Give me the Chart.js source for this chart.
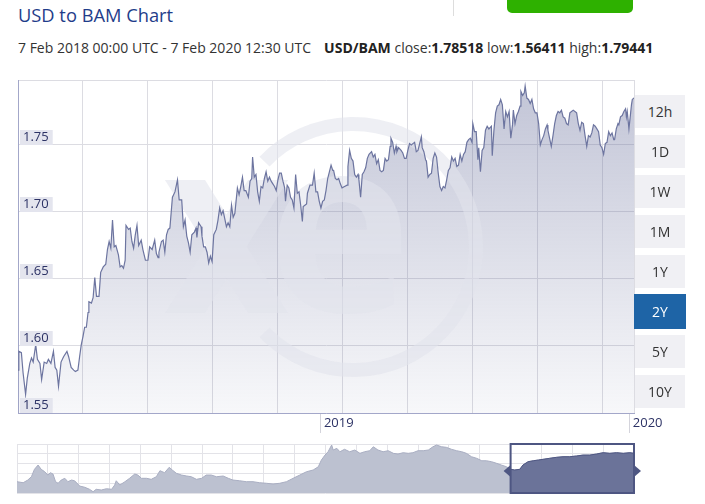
<!DOCTYPE html>
<html><head><meta charset="utf-8">
<script src="https://cdn.jsdelivr.net/npm/chart.js@4.4.1/dist/chart.umd.min.js"></script>
<style>
html,body{margin:0;padding:0;background:#fff;}
body{width:705px;height:504px;position:relative;overflow:hidden;font-family:'Open Sans',sans-serif;}
#title{position:absolute;left:18px;top:2px;font-size:18.3px;color:#1f3d8a;white-space:nowrap;}
#sub{position:absolute;left:18px;top:38px;font-size:14px;color:#333;white-space:nowrap;}
#sub b{font-weight:700;color:#222;}
#sub .gap{display:inline-block;width:13px;}
#divider{position:absolute;left:453px;top:0;width:1px;height:16px;background:#ddd;}
#green{position:absolute;left:507px;top:-6px;width:126px;height:19px;border-radius:5px;background:#2eb100;}
.btn{position:absolute;left:635px;width:50px;height:33px;background:#f0f0f4;color:#333;font-size:14px;line-height:33px;text-align:center;}
.btn.on{background:#1e64a6;color:#fff;left:634px;width:52px;height:35px;line-height:35px;}
#mainWrap{position:absolute;left:0;top:60px;width:705px;height:380px;}
#navWrap{position:absolute;left:0;top:440px;width:705px;height:64px;}
canvas{display:block;}
</style></head><body>
<div id="title">USD to BAM Chart</div>
<div id="divider"></div>
<div id="green"></div>
<div id="sub">7 Feb 2018 00:00 UTC - 7 Feb 2020 12:30 UTC<span class="gap"></span><b>USD/BAM</b> close:<b>1.78518</b> low:<b>1.56411</b> high:<b>1.79441</b></div>
<div id="mainWrap"><canvas id="main" width="705" height="380"></canvas></div>
<div id="navWrap"><canvas id="nav" width="705" height="64"></canvas></div>
<div id="btns"></div>
<script>
// ---- main series: days since start of the 2-year window, USD/BAM rate ----
const mainDays = [
0,1,4,6,9,11,14,16,18,21,
23,26,28,31,34,36,39,42,44,46,
48,51,54,58,60,63,66,68,71,73,
75,77,79,81,83,84,87,89,91,93,
96,98,101,104,106,108,110,112,114,116,
119,121,123,125,127,128,131,133,135,137,
139,141,143,146,148,151,154,156,159,162,
164,166,167,170,172,174,176,178,180,183,
186,189,191,194,196,198,200,202,204,206,
209,211,212,214,217,218,220,222,224,226,
228,230,232,235,237,239,241,243,245,247,
249,251,253,255,257,260,262,264,266,268,
270,273,275,277,278,280,282,284,286,288,
290,292,294,296,298,300,302,304,306,308,
310,312,314,316,317,319,321,323,325,327,
329,331,333,335,337,338,340,342,343,346,
349,351,353,355,357,359,361,363,365,367,
369,371,373,374,376,378,380,382,384,387,
390,391,393,395,397,399,401,403,404,406,
408,410,412,414,416,419,421,423,425,427,
429,431,433,435,437,439,441,442,444,446,
448,449,451,454,456,458,460,462,464,466,
468,470,472,474,476,478,479,481,483,484,
486,488,490,492,494,496,498,500,502,504,
506,508,510,512,514,516,518,520,522,524,
526,528,530,532,534,536,538,539,541,543,
545,546,548,550,552,554,556,558,561,562,
564,566,568,570,572,574,576,578,580,582,
584,586,587,589,591,593,595,596,598,600,
601,603,605,607,609,611,613,615,617,619,
621,623,625,627,628,630,632,634,636,638,
640,642,644,646,648,650,652,654,656,658,
660,662,664,666,668,670,672,674,676,678,
680,682,684,686,688,690,692,694,696,698,
700,702,704,706,707,709,711,712,714,716,
718,720,721,722,724,726,727,728,730];
const mainRates = [
1.582,1.596,1.595,1.580,1.564,1.576,1.587,1.591,1.588,1.601,
1.590,1.587,1.575,1.588,1.587,1.590,1.587,1.596,1.584,1.582,
1.570,1.588,1.592,1.596,1.592,1.584,1.582,1.581,1.582,1.592,
1.601,1.607,1.614,1.614,1.625,1.633,1.632,1.636,1.651,1.637,
1.637,1.655,1.659,1.661,1.672,1.678,1.673,1.694,1.674,1.675,
1.668,1.659,1.660,1.658,1.664,1.690,1.687,1.688,1.678,1.673,
1.683,1.690,1.675,1.679,1.672,1.664,1.664,1.674,1.672,1.679,
1.669,1.666,1.670,1.678,1.679,1.670,1.683,1.687,1.688,1.711,
1.715,1.724,1.709,1.709,1.689,1.694,1.682,1.677,1.670,1.683,
1.685,1.688,1.681,1.692,1.689,1.682,1.674,1.674,1.670,1.662,
1.667,1.663,1.683,1.687,1.694,1.703,1.698,1.701,1.695,1.689,
1.692,1.689,1.705,1.696,1.699,1.718,1.713,1.719,1.726,1.716,
1.716,1.711,1.723,1.725,1.741,1.726,1.728,1.715,1.708,1.719,
1.718,1.725,1.730,1.723,1.726,1.723,1.721,1.719,1.716,1.724,
1.729,1.729,1.723,1.718,1.708,1.720,1.718,1.711,1.709,1.703,
1.728,1.714,1.715,1.705,1.693,1.704,1.705,1.706,1.714,1.720,
1.720,1.729,1.715,1.715,1.708,1.703,1.708,1.709,1.716,1.725,
1.730,1.735,1.731,1.731,1.725,1.724,1.725,1.721,1.718,1.719,
1.720,1.734,1.746,1.740,1.738,1.728,1.726,1.728,1.724,1.711,
1.728,1.730,1.733,1.740,1.743,1.745,1.741,1.743,1.736,1.739,
1.731,1.730,1.731,1.740,1.738,1.739,1.749,1.755,1.752,1.744,
1.749,1.745,1.748,1.746,1.744,1.740,1.740,1.746,1.751,1.750,
1.751,1.752,1.745,1.746,1.751,1.756,1.748,1.745,1.739,1.738,
1.726,1.728,1.729,1.740,1.744,1.741,1.729,1.719,1.716,1.719,
1.718,1.724,1.731,1.733,1.741,1.738,1.740,1.734,1.735,1.743,
1.738,1.743,1.745,1.752,1.754,1.755,1.752,1.766,1.760,1.760,
1.739,1.748,1.730,1.746,1.748,1.761,1.764,1.762,1.764,1.742,
1.761,1.774,1.779,1.780,1.784,1.780,1.762,1.775,1.771,1.775,
1.755,1.765,1.776,1.766,1.772,1.775,1.779,1.790,1.787,1.789,
1.794,1.785,1.784,1.781,1.784,1.777,1.774,1.774,1.766,1.750,
1.754,1.757,1.762,1.765,1.761,1.755,1.749,1.757,1.766,1.772,
1.775,1.774,1.776,1.771,1.770,1.766,1.765,1.774,1.775,1.776,
1.775,1.774,1.766,1.761,1.767,1.766,1.757,1.749,1.757,1.756,
1.759,1.765,1.764,1.762,1.760,1.750,1.748,1.743,1.751,1.752,
1.760,1.757,1.759,1.754,1.754,1.762,1.766,1.765,1.771,1.772,
1.775,1.777,1.771,1.775,1.762,1.774,1.780,1.784,1.78518];

const spanDays = 730;
const gridStepDays = 77;
const yMin = 1.55, yMax = 1.7985;
const yTicks = [1.55, 1.60, 1.65, 1.70, 1.75];
const yearTickDays = [359, 725];
const yearLabels = ['2019', '2020'];
const rangeButtons = ['12h','1D','1W','1M','1Y','2Y','5Y','10Y'];
const activeButton = '2Y';

// ---- navigator: months since start of 10-year history ----
const navMonths = [
0,1.2,2.1,2.8,3.4,4.1,4.7,5.4,6.0,6.5,
7.0,7.5,8.0,8.6,9.3,9.9,10.6,11.2,12.2,13.2,
14.1,14.8,15.4,16.4,17.4,18.4,19.0,19.3,20.0,21.0,
21.9,22.9,23.5,24.2,25.2,26.1,27.1,27.8,28.7,29.6,
30.2,31.0,32.0,33.0,33.9,34.9,35.9,36.8,37.8,38.8,
40.1,41.1,42.0,43.3,44.6,45.9,47.2,48.5,49.8,51.1,
52.4,53.7,55.0,56.3,57.6,58.6,59.2,59.9,60.5,61.2,
61.5,62.2,62.8,63.7,64.7,65.7,66.7,67.6,68.6,69.3,
70.2,71.2,72.2,73.2,74.1,75.1,76.1,77.0,78.0,79.0,
80.0,80.9,81.6,82.6,83.5,84.5,85.5,86.5,87.4,88.4,
89.4,90.4,91.3,92.3,93.3,94.2,95.2,96.0,96.8,97.8,
98.4,99.4,100.4,101.4,102.3,103.6,104.9,106.2,107.5,108.8,
110.1,111.4,112.7,114.0,115.3,116.6,117.9,119.2,120];
const navRates = [
1.426,1.413,1.447,1.489,1.583,1.637,1.583,1.552,1.510,1.540,
1.523,1.426,1.406,1.447,1.469,1.426,1.447,1.438,1.371,1.355,
1.330,1.299,1.330,1.321,1.337,1.330,1.384,1.438,1.384,1.426,
1.469,1.523,1.510,1.469,1.469,1.456,1.489,1.565,1.540,1.608,
1.574,1.532,1.510,1.498,1.489,1.456,1.469,1.510,1.510,1.489,
1.498,1.469,1.447,1.438,1.426,1.426,1.413,1.406,1.397,1.406,
1.426,1.469,1.510,1.552,1.574,1.615,1.700,1.763,1.805,1.890,
1.827,1.848,1.805,1.836,1.805,1.827,1.785,1.805,1.818,1.868,
1.827,1.805,1.818,1.785,1.776,1.793,1.785,1.793,1.818,1.818,
1.827,1.868,1.890,1.868,1.861,1.836,1.818,1.805,1.785,1.742,
1.722,1.691,1.691,1.679,1.658,1.637,1.615,1.583,1.574,1.583,
1.637,1.679,1.691,1.700,1.709,1.722,1.734,1.742,1.742,1.751,
1.763,1.763,1.776,1.793,1.785,1.793,1.785,1.793,1.785];
const navSpanMonths = 120;
const navGridMonths = 6;
const selStartMonth = 96;
const navMin = 1.283, navMax = 1.903;

// ---- buttons ----
(function(){
  const wrap = document.getElementById('btns');
  rangeButtons.forEach((b,i)=>{
    const d = document.createElement('div');
    d.className = 'btn' + (b===activeButton?' on':'');
    d.style.top = (b===activeButton ? 94 + i*40 : 95 + i*40) + 'px';
    d.textContent = b;
    wrap.appendChild(d);
  });
})();

Chart.defaults.font.family = "'Open Sans', sans-serif";

const watermark = {
  id: 'xeMark',
  beforeDatasetsDraw(chart){
    const {ctx, chartArea:a} = chart;
    ctx.save();
    ctx.beginPath(); ctx.rect(a.left, a.top, a.right-a.left, a.bottom-a.top); ctx.clip();
    ctx.fillStyle = ctx.strokeStyle = 'rgba(226,227,236,0.58)';
    const ox = a.left, oy = a.top;
    ctx.lineWidth = 14;
    ctx.beginPath();
    ctx.arc(ox+335, oy+167, 123, -136*Math.PI/180, 136*Math.PI/180);
    ctx.stroke();
    ctx.save();
    ctx.beginPath(); ctx.rect(ox+140, oy+100, 160, 133); ctx.clip();
    ctx.lineWidth = 34;
    ctx.beginPath();
    ctx.moveTo(ox+147, oy+68); ctx.lineTo(ox+270, oy+265);
    ctx.moveTo(ox+270, oy+68); ctx.lineTo(ox+147, oy+265);
    ctx.stroke();
    ctx.restore();
    ctx.font = "bold 245px 'Open Sans'";
    ctx.textBaseline = 'alphabetic';
    ctx.textAlign = 'left';
    ctx.fillText('e', ox+249, oy+232);
    ctx.restore();
  }
};

new Chart(document.getElementById('main'), {
  type: 'line',
  data: { datasets: [{
    data: mainDays.map((d,i)=>({x:d, y:mainRates[i]})),
    borderColor: '#6d75a0', borderWidth: 1.2, pointRadius: 0, tension: 0,
    fill: 'start',
    backgroundColor: (c)=>{
      const a = c.chart.chartArea;
      if (!a) return 'rgba(108,115,158,0.25)';
      const g = c.chart.ctx.createLinearGradient(0, a.top, 0, a.bottom);
      g.addColorStop(0, 'rgba(108,115,158,0.42)');
      g.addColorStop(1, 'rgba(108,115,158,0.05)');
      return g;
    }
  }]},
  options: {
    responsive: false, animation: false, events: [],
    layout: { padding: { left: 18, right: 71, top: 20, bottom: 0 } },
    plugins: { legend: {display:false}, tooltip: {enabled:false}, filler: { drawTime: 'beforeDatasetsDraw' } },
    scales: {
      x: {
        type: 'linear', min: 0, max: spanDays, weight: 0,
        afterBuildTicks: s => { const t=[]; for (let v=0; v<spanDays; v+=gridStepDays) t.push({value:v}); t.push({value:spanDays}); s.ticks=t; },
        ticks: { display: false },
        grid: { color: '#dcdce2', drawTicks: false },
        border: { color: '#a3a7c9' },
        afterFit: s => { s.height = 0; }
      },
      x2: {
        type: 'linear', position: 'bottom', min: 0, max: spanDays, weight: 1,
        afterBuildTicks: s => { s.ticks = yearTickDays.map(v=>({value:v})); },
        ticks: { align: 'start', padding: -18, labelOffset: 3, color: '#2c3265', font: {size: 13}, maxRotation: 0, autoSkip: false,
                 callback: (v,i) => yearLabels[i] },
        grid: { drawOnChartArea: false, drawTicks: true, tickLength: 20, color: '#d4d4dc' },
        border: { display: false },
        afterFit: s => { s.height = 27; }
      },
      y: {
        min: yMin, max: yMax,
        afterBuildTicks: s => { s.ticks = yTicks.concat([yMax]).map(v=>({value:v})); },
        ticks: { mirror: true, padding: 5, labelOffset: -7.5, z: 1, color: '#2c3265',
                 font: { size: 13, lineHeight: 1.15 },
                 callback: v => (v > 1.76 ? '' : Number(v).toFixed(2)),
                 showLabelBackdrop: true,
                 backdropColor: c => (c.tick && c.tick.value > 1.76) ? 'rgba(0,0,0,0)' : '#e4e5ee',
                 backdropPadding: { left: 3, right: 4, top: 0, bottom: 0 } },
        grid: { color: '#dcdce2', drawTicks: false },
        border: { color: '#a3a7c9' },
        afterFit: s => { s.width = 0; }
      }
    }
  },
  plugins: [watermark]
});

const selection = {
  id: 'selection',
  afterDatasetsDraw(chart){
    const {ctx, chartArea:a} = chart;
    const xs = chart.scales.x;
    const x0 = xs.getPixelForValue(selStartMonth), x1 = xs.getPixelForValue(navSpanMonths);
    ctx.save();
    ctx.strokeStyle = '#4e5682'; ctx.lineWidth = 2;
    ctx.strokeRect(x0, a.top, x1-x0, a.bottom-a.top);
    ctx.fillStyle = '#4e5682';
    const my = a.top + 27;
    ctx.beginPath(); ctx.moveTo(x0, my-6); ctx.lineTo(x0-7, my); ctx.lineTo(x0, my+6); ctx.closePath(); ctx.fill();
    ctx.beginPath(); ctx.moveTo(x1, my-6); ctx.lineTo(x1+7, my); ctx.lineTo(x1, my+6); ctx.closePath(); ctx.fill();
    ctx.restore();
  }
};

const navPts = navMonths.map((m,i)=>({x:m, y:navRates[i]}));
new Chart(document.getElementById('nav'), {
  type: 'line',
  data: { datasets: [
    { data: navPts, order: 2, borderColor: '#a9aec2', borderWidth: 1, pointRadius: 0, fill: 'start', backgroundColor: '#bcc1d0' },
    { data: navPts.filter(p => p.x >= selStartMonth), order: 1, borderColor: '#4e5682', borderWidth: 1, pointRadius: 0, fill: 'start', backgroundColor: '#6b7399' }
  ]},
  options: {
    responsive: false, animation: false, events: [],
    layout: { padding: { left: 17, right: 71, top: 4, bottom: 11 } },
    plugins: { legend: {display:false}, tooltip: {enabled:false} },
    scales: {
      x: { type: 'linear', min: 0, max: navSpanMonths,
           afterBuildTicks: s => { const t=[]; for (let v=0; v<=navSpanMonths; v+=navGridMonths) t.push({value:v}); s.ticks=t; },
           ticks: { display: false }, grid: { color: '#e3e3e8', drawTicks: false }, border: { display: false },
           afterFit: s => { s.height = 0; } },
      y: { min: navMin, max: navMax,
           afterBuildTicks: s => { const t=[]; for (let k=0; k<=5; k++) t.push({value: navMin + k*(navMax-navMin)/5}); s.ticks=t; },
           ticks: { display: false }, grid: { color: '#e3e3e8', drawTicks: false }, border: { display: false },
           afterFit: s => { s.width = 0; } }
    }
  },
  plugins: [selection]
});
</script>
</body></html>
